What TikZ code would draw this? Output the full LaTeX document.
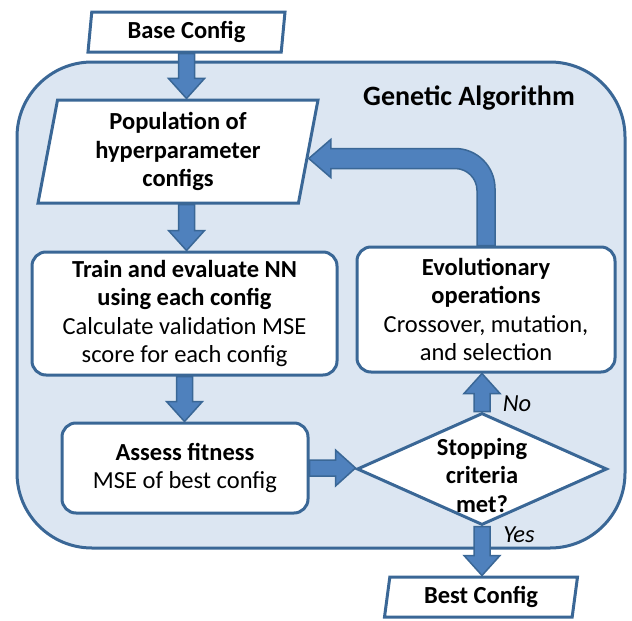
\documentclass[tikz,border=0pt]{standalone}
\usepackage{fontspec}
\setmainfont{Carlito}
\usetikzlibrary{positioning,calc,shapes.geometric}
\definecolor{gaedge}{HTML}{3A6796}
\definecolor{gafill}{HTML}{DCE6F2}
\definecolor{arrowfill}{HTML}{4F81BD}
\tikzset{txt/.style={font=\fontsize{24.5}{28.5}\selectfont, align=center}}
\tikzset{gabox/.style={draw=gaedge, line width=3pt, fill=gafill, rounded corners=75pt}}
\tikzset{procbox/.style={txt, draw=gaedge, line width=3pt, fill=white, rounded corners=14pt, inner sep=0pt}}
\tikzset{iobox/.style={txt, trapezium, trapezium left angle=#1, trapezium right angle=180-#1,
    trapezium stretches body, draw=gaedge, line width=3pt, fill=white, inner sep=0pt}}
\tikzset{decision/.style={diamond, draw=gaedge, line width=3pt, fill=white, inner sep=0pt}}
\tikzset{barrow/.style={draw=gaedge, line width=1.5pt, fill=arrowfill, line join=miter}}
\tikzset{flowdown/.style={barrow, to path={let \p1=(\tikztostart), \p2=(\tikztotarget) in
    (\x1-8pt,\y1) -- (\x1+8pt,\y1) -- (\x1+8pt,\y2+20pt) -- (\x1+18pt,\y2+20pt) -- (\x1,\y2)
    -- (\x1-18pt,\y2+20pt) -- (\x1-8pt,\y2+20pt) -- cycle}}}
\tikzset{flowup/.style={barrow, to path={let \p1=(\tikztostart), \p2=(\tikztotarget) in
    (\x1-8pt,\y1) -- (\x1+8pt,\y1) -- (\x1+8pt,\y2-20pt) -- (\x1+18pt,\y2-20pt) -- (\x1,\y2)
    -- (\x1-18pt,\y2-20pt) -- (\x1-8pt,\y2-20pt) -- cycle}}}
\tikzset{flowright/.style={barrow, to path={let \p1=(\tikztostart), \p2=(\tikztotarget) in
    (\x1,\y1-8pt) -- (\x1,\y1+8pt) -- (\x2-20pt,\y1+8pt) -- (\x2-20pt,\y1+18pt) -- (\x2,\y1)
    -- (\x2-20pt,\y1-18pt) -- (\x2-20pt,\y1-8pt) -- cycle}}}
\tikzset{flowback/.style={barrow, to path={let \p1=(\tikztostart), \p2=(\tikztotarget) in
    (\x1-9pt,\y1) -- (\x1-9pt,\y2-32pt) arc[start angle=0, end angle=90, radius=22pt]
    -- (\x2+22pt,\y2-10pt) -- (\x2+22pt,\y2-19pt) -- (\x2,\y2) -- (\x2+22pt,\y2+19pt)
    -- (\x2+22pt,\y2+10pt) -- (\x1-31pt,\y2+10pt) arc[start angle=90, end angle=0, radius=40pt]
    -- (\x1+9pt,\y1) -- cycle}}}

\begin{document}
\begin{tikzpicture}[x=1pt, y=-1pt]
\useasboundingbox (0,0) rectangle (632,621);
% outer box
\node[gabox, minimum width=608pt, minimum height=486pt] (ga) at (321,305) {};
\node[txt, font=\fontsize{28}{32}\selectfont] (gatitle) at (469,98) {\textbf{Genetic Algorithm}};
% in/out
\node[iobox=80, minimum width=197pt, minimum height=40pt] (base) at (186.5,32) {\textbf{Base Config}};
\node[iobox=76, minimum width=280pt, minimum height=103pt] (pop) at (178,151.5)
    {\textbf{Population of}\\\textbf{hyperparameter}\\\textbf{configs}};
\node[iobox=76, minimum width=193pt, minimum height=40pt] (best) at (481,597) {\textbf{Best Config}};
% steps
\node[procbox, minimum width=305pt, minimum height=123pt] (train) at (184.5,313.5)
    {\textbf{Train and evaluate NN}\\\textbf{using each config}\\Calculate validation MSE\\score for each config};
\node[procbox, minimum width=246pt, minimum height=90pt] (assess) at (185,468)
    {\textbf{Assess fitness}\\MSE of best config};
\node[procbox, minimum width=258pt, minimum height=125pt] (evo) at (486,309.5)
    {\textbf{Evolutionary}\\\textbf{operations}\\Crossover, mutation,\\and selection};
\node[decision, minimum width=250pt, minimum height=112pt] (stop) at (482,469) {};
\node[txt] (stoptext) at ($(stop.center)+(0,6)$) {\textbf{Stopping}\\\textbf{criteria}\\\textbf{met?}};
\node[txt] (no) at (517,404) {\textit{No}};
\node[txt] (yes) at (519,535) {\textit{Yes}};
\coordinate (popin) at ($(pop.east)+(-1,7)$);
% arrows
\draw[flowdown] (base.south) to (pop.north);
\draw[flowdown] (pop.south -| base.south) to (train.north);
\draw[flowdown] (train.south) to (assess.north);
\draw[flowright] (assess.east) to (stop.west);
\draw[flowup] (stop.north) to (evo.south);
\draw[flowback] (evo.north) to (popin);
\draw[flowdown] (stop.south) to (best.north);
\end{tikzpicture}
\end{document}
